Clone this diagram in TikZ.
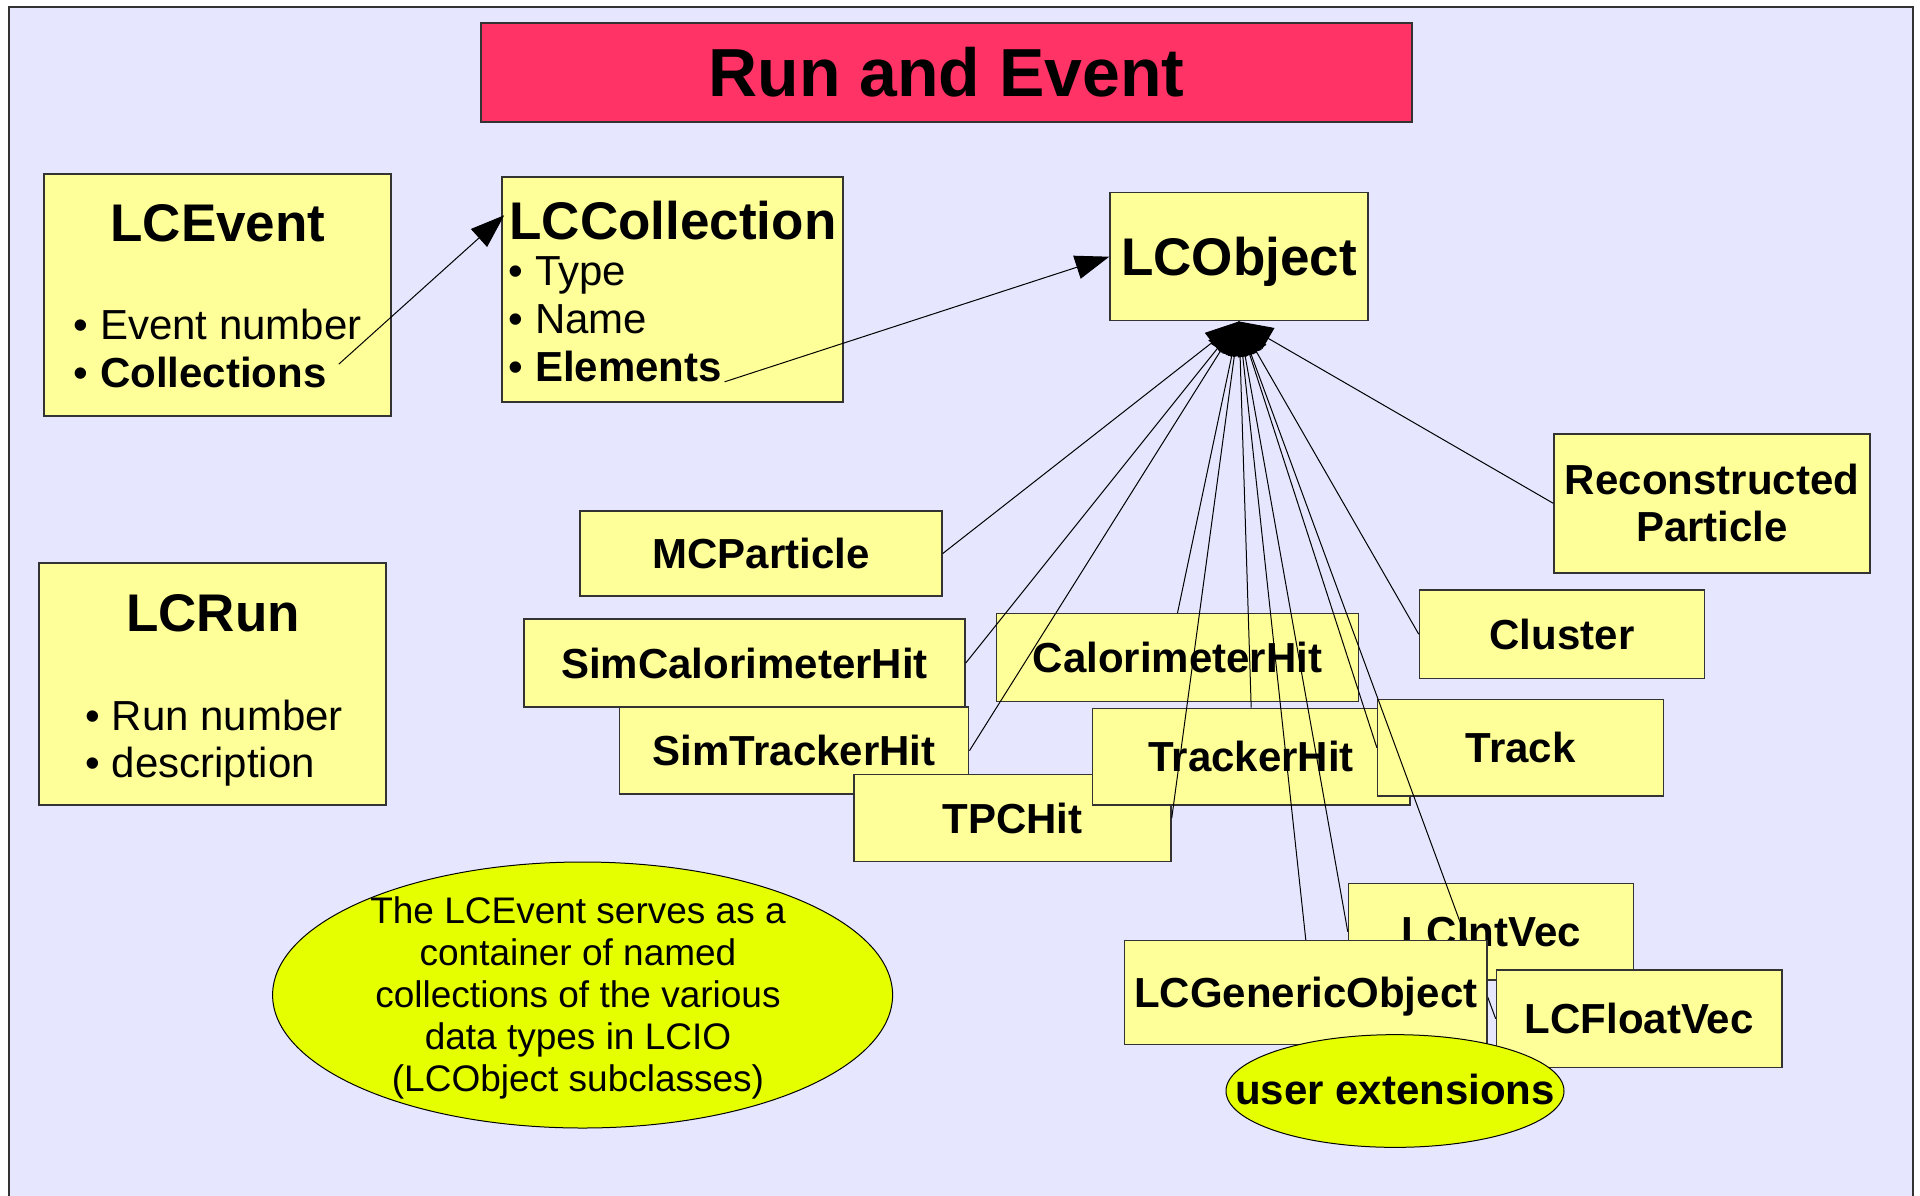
\documentclass[tikz,border=0pt]{standalone}
\usepackage{fontspec}
\setmainfont{Liberation Sans}
\usetikzlibrary{arrows.meta,shapes.geometric,calc}

\definecolor{pagebg}{HTML}{E6E6FF}
\definecolor{boxfill}{HTML}{FFFF99}
\definecolor{titlefill}{HTML}{FF3366}
\definecolor{notefill}{HTML}{E6FF00}
\definecolor{edge}{HTML}{333333}

\pgfdeclarelayer{front}
\pgfsetlayers{main,front}

\begin{document}
\begin{tikzpicture}[x=1pt,y=-1pt,
  box/.style={draw=edge, line width=1.5pt, fill=boxfill, inner sep=0pt,
    font=\fontsize{42}{48}\selectfont\bfseries, text height=30pt, text depth=0pt},
  boxtwo/.style={draw=edge, line width=1.5pt, fill=boxfill, inner sep=0pt,
    align=center, font=\fontsize{42}{46.7}\selectfont\bfseries},
  plainbox/.style={draw=edge, line width=1.5pt, fill=boxfill, inner sep=0pt},
  note/.style={ellipse, draw=black, line width=1pt, fill=notefill, inner sep=0pt},
  headline/.style={font=\fontsize{53}{60}\selectfont\bfseries, inner sep=0pt, anchor=base},
  item/.style={font=\fontsize{42}{48}\selectfont, inner sep=0pt, anchor=base west},
  link/.style={line width=1pt, draw=black},
  assoc/.style={link, -{Triangle[length=34pt,width=24pt]}},
  inherit/.style={link, {Triangle[length=34pt,width=24pt]}-}
]
\useasboundingbox (0,0) rectangle (1920,1195);
\fill[white] (0,0) rectangle (1920,1195);

% page frame
\path[draw=edge, line width=2.5pt, fill=pagebg] (9,7) rectangle (1913,1215);

% heading
\node[box, fill=titlefill, font=\fontsize{68}{80}\selectfont\bfseries,
      text height=48.7pt, minimum width=931pt, minimum height=99pt]
  (title) at (946.5,72.5) {Run and Event};

% LCEvent
\node[plainbox, minimum width=347pt, minimum height=242pt] (lcevent) at (217.5,295) {};
\node[headline] (evtitle) at (218,241.7) {LCEvent};
\node[item] (evnum) at (73.6,339.2) {• Event number};
\node[item] (evcoll) at (73.6,387.2) {• \textbf{Collections}};

% LCCollection
\node[plainbox, minimum width=341pt, minimum height=225pt] (lccoll) at (672.5,289.5) {};
\node[headline] (colltitle) at (673,239) {LCCollection};
\node[item] (ctype) at (508.6,285.8) {• Type};
\node[item] (cname) at (508.6,333.8) {• Name};
\node[item] (celem) at (508.6,381.8) {• \textbf{Elements}};

% LCRun
\node[plainbox, minimum width=347pt, minimum height=242pt] (lcrun) at (212.7,684) {};
\node[headline] (runtitle) at (213,631.7) {LCRun};
\node[item] (runnum) at (85.3,730.4) {• Run number};
\node[item] (rundesc) at (85.3,777.6) {• description};

% LCObject
\node[box, font=\fontsize{53}{60}\selectfont\bfseries, text height=38pt,
      minimum width=258pt, minimum height=128pt] (lcobj) at (1239,256.7) {LCObject};

% data classes
\node[boxtwo, minimum width=316pt, minimum height=139pt] (reco) at (1712,503.3) {Reconstructed\\Particle};
\node[box, minimum width=362pt, minimum height=85pt] (mc) at (761,553.5) {MCParticle};
\node[box, minimum width=285pt, minimum height=88.3pt] (cluster) at (1562,634.2) {Cluster};
\node[box, minimum width=441pt, minimum height=88pt] (simcal) at (744.5,663) {SimCalorimeterHit};
\node[box, minimum width=349pt, minimum height=87pt] (simtrk) at (794.2,750.7) {SimTrackerHit};
\node[box, minimum width=317pt, minimum height=87.4pt] (tpc) at (1012.5,818) {TPCHit};
\node[box, minimum width=362pt, minimum height=88pt] (calo) at (1177.5,657.7) {CalorimeterHit};
\node[box, minimum width=317.6pt, minimum height=96.7pt] (trkhit) at (1251.2,756.7) {TrackerHit};
\node[box, minimum width=286pt, minimum height=96.7pt] (track) at (1520.6,747.7) {Track};
\node[box, minimum width=285pt, minimum height=96.7pt] (intvec) at (1491,931.7) {LCIntVec};

\begin{pgfonlayer}{front}
  \node[box, minimum width=362.4pt, minimum height=103.6pt] (gen) at (1305.8,992.5) {LCGenericObject};
  \node[box, minimum width=285.6pt, minimum height=97.3pt] (floatvec) at (1639.2,1018.7) {LCFloatVec};
  \node[note, minimum width=338pt, minimum height=112.7pt] (userext) at (1395,1091) {};
  \node[inner sep=0pt, font=\fontsize{42}{48}\selectfont\bfseries,
        text height=21.8pt, text depth=0pt] (userexttext) at (1395,1094) {user extensions};
\end{pgfonlayer}

% explanatory note
\node[note, minimum width=620pt, minimum height=266pt] (summary) at (582.6,995) {};
\node[align=center, inner sep=0pt, font=\fontsize{37}{42}\selectfont]
  (summarytext) at (578,998) {The LCEvent serves as a\\container of named\\collections of the various\\data types in LCIO\\(LCObject subclasses)};

% associations
\coordinate (collsrc) at ($(evcoll.base east)+(12,-23)$);
\coordinate (colltip) at ($(lccoll.north west)+(3,39)$);
\draw[assoc] (collsrc) -- (colltip);
\coordinate (elemsrc) at ($(celem.base east)+(2.5,0)$);
\draw[assoc] (elemsrc) -- (lcobj.west);

% inheritance from LCObject
\foreach \sub in {mc.east, simcal.east, simtrk.east, tpc.east, calo.north,
                  trkhit.north, gen.north, intvec.west, track.west,
                  floatvec.west, cluster.west, reco.west}
  \draw[inherit] (lcobj.south) -- (\sub);
\end{tikzpicture}
\end{document}
